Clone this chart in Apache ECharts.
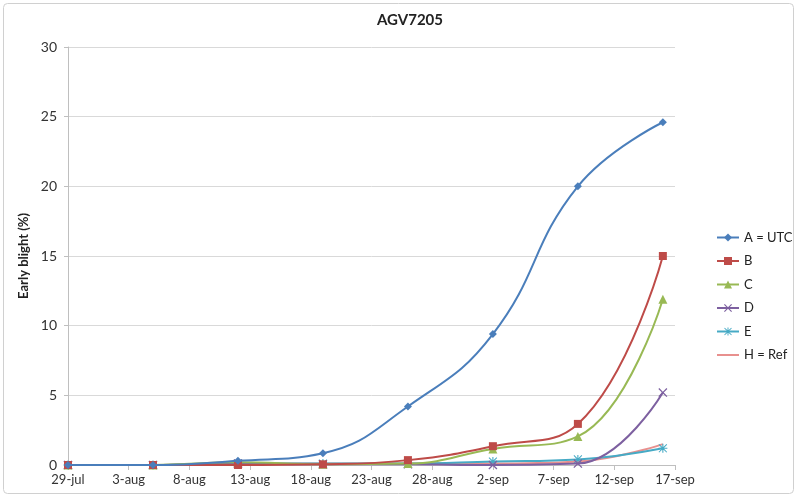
<!DOCTYPE html>
<html><head><meta charset="utf-8">
<script src="https://cdn.jsdelivr.net/npm/echarts@6/dist/echarts.min.js"></script>
<style>html,body{margin:0;padding:0;background:#fff}#c{width:798px;height:498px}</style>
</head><body><div id="c"></div>
<script>
const sampleDates = ['2013-07-29','2013-08-05','2013-08-12','2013-08-19','2013-08-26','2013-09-02','2013-09-09','2013-09-16'];
const tickLabels = ['29-jul','3-aug','8-aug','13-aug','18-aug','23-aug','28-aug','2-sep','7-sep','12-sep','17-sep'];
const seriesNames = ['A = UTC','B','C','D','E','H = Ref'];
const valsA = [0, 0, 0.3, 0.85, 4.2, 9.4, 20.0, 24.6];
const valsB = [0, 0, 0, 0.05, 0.35, 1.35, 2.95, 15.0];
const valsC = [0, 0, 0.2, 0.05, 0.1, 1.15, 2.05, 11.9];
const valsD = [0, 0, 0.1, 0.05, 0.05, 0, 0.1, 5.2];
const valsE = [0, 0, 0.1, 0.1, 0.1, 0.25, 0.4, 1.2];
const valsH = [0, 0, 0.1, 0.1, 0.1, 0.1, 0.25, 1.5];

const startMs = Date.parse('2013-07-29');
const dayOf = d => Math.round((Date.parse(d) - startMs) / 86400000);
const pts = vals => vals.map((v, i) => [dayOf(sampleDates[i]), v]);

const colors = ['#4A7EBB','#BE4B48','#98B954','#7D60A0','#46AAC5','#E8908E'];
const xPath = 'path://M0,1 L1,0 L5,4 L9,0 L10,1 L6,5 L10,9 L9,10 L5,6 L1,10 L0,9 L4,5 Z';
const starPath = 'path://M4.4,0 L5.6,0 L5.6,4.4 L10,4.4 L10,5.6 L5.6,5.6 L5.6,10 L4.4,10 L4.4,5.6 L0,5.6 L0,4.4 L4.4,4.4 Z M1,0.2 L5,4.2 L9,0.2 L9.8,1 L5.8,5 L9.8,9 L9,9.8 L5,5.8 L1,9.8 L0.2,9 L4.2,5 L0.2,1 Z';
const symbols = ['diamond','rect','triangle', xPath, starPath, 'none'];
const sizes = [8, 8, 9, 9, 9, 0];
const allVals = [valsA, valsB, valsC, valsD, valsE, valsH];
const FF = 'Lato, "Open Sans", sans-serif';

const chart = echarts.init(document.getElementById('c'));
chart.setOption({
  animation: false,
  backgroundColor: '#fff',
  textStyle: { fontFamily: FF },
  graphic: [{ type: 'rect', shape: { x: 3.5, y: 3.5, width: 790, height: 490, r: 4 },
    style: { fill: 'none', stroke: '#D0D0D0', lineWidth: 1 }, z: -1 }],
  title: { text: 'AGV7205', left: 405, top: 8, textAlign: 'center',
    textStyle: { fontSize: 15, fontWeight: 'bold', color: '#222', fontFamily: FF } },
  grid: { left: 68, right: 123, top: 47, bottom: 33, containLabel: false },
  legend: {
    orient: 'vertical', left: 711, top: 226, itemGap: 10.5, itemWidth: 22, itemHeight: 10,
    textStyle: { fontSize: 13, color: '#222' },
    data: seriesNames.map((n, i) => ({ name: n, icon: i === 5 ? 'path://M0,4 L22,4 L22,6 L0,6 Z' : undefined }))
  },
  xAxis: {
    type: 'value', min: 0, max: 50, interval: 5,
    axisLine: { lineStyle: { color: '#BFBFBF' } },
    axisTick: { show: true, length: 5, lineStyle: { color: '#BFBFBF' } },
    splitLine: { show: false },
    axisLabel: { fontSize: 13, color: '#333', margin: 8, formatter: v => tickLabels[Math.round(v / 5)] || '' }
  },
  yAxis: {
    type: 'value', min: 0, max: 30, interval: 5,
    name: 'Early blight (%)', nameLocation: 'middle', nameGap: 30,
    nameTextStyle: { fontSize: 13, fontWeight: 'bold', color: '#222' },
    axisLine: { show: true, lineStyle: { color: '#BFBFBF' } },
    axisTick: { show: true, length: 4, lineStyle: { color: '#BFBFBF' } },
    splitLine: { lineStyle: { color: '#D9D9D9' } },
    axisLabel: { fontSize: 14, color: '#333', margin: 11 }
  },
  series: seriesNames.map((n, i) => ({
    name: n, type: 'line', smooth: 0.45, data: pts(allVals[i]),
    symbol: symbols[i], symbolSize: sizes[i], showSymbol: i !== 5,
    lineStyle: { width: 2, color: colors[i] },
    itemStyle: { color: colors[i] },
    z: 10 - i
  }))
});
</script></body></html>
